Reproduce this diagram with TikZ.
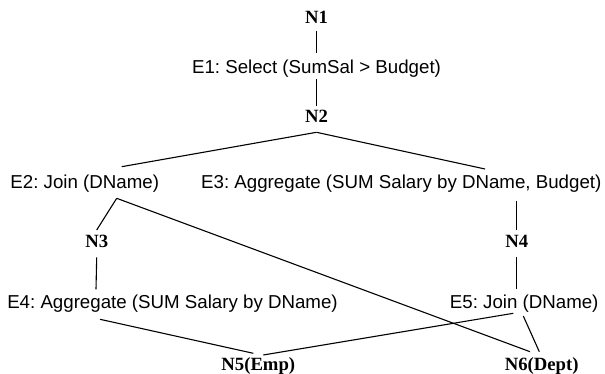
\documentclass[tikz,border=0pt]{standalone}
\usepackage{fontspec}
\setmainfont{Liberation Serif}
\newfontfamily\arialf{Liberation Sans}
\usetikzlibrary{calc}
\tikzset{
  nlabel/.style={anchor=base, inner sep=0pt, font=\fontsize{18.7}{22}\selectfont\bfseries\frenchspacing},
  elabel/.style={anchor=base, inner sep=0pt, font=\arialf\fontsize{18.7}{22}\selectfont\frenchspacing},
  conn/.style={draw=black, line width=1.1pt}
}
\begin{document}
\begin{tikzpicture}[x=1pt,y=-1pt]
\useasboundingbox (0,0) rectangle (605,374);
\node[nlabel] (N1) at (316.5,23.3) {N1};
\node[elabel] (E1) at (316.5,74) {E1: Select (SumSal > Budget)};
\node[nlabel] (N2) at (316.5,123) {N2};
\node[elabel] (E2) at (84.8,188.3) {E2: Join (DName)};
\node[elabel] (E3) at (401.3,188.3) {E3: Aggregate (SUM Salary by DName, Budget)};
\node[nlabel] (N3) at (96.7,247.7) {N3};
\node[nlabel] (N4) at (516.7,247.7) {N4};
\node[elabel] (E4) at (172.5,308.3) {E4: Aggregate (SUM Salary by DName)};
\node[elabel] (E5) at (524.2,308.3) {E5: Join (DName)};
\node[nlabel] (N5) at (258.3,370) {N5(Emp)};
\node[nlabel] (N6) at (541.7,370) {N6(Dept)};

\draw[conn] ($(N1.base)+(0,7.4)$) -- ($(E1.base)+(0,-20.7)$);
\draw[conn] ($(E1.base)+(0,5.3)$) -- ($(N2.base)+(0,-17)$);
\draw[conn] ($(N2.base)+(0,9.3)$) -- ($(E2.base)+(36.9,-21.6)$);
\draw[conn] ($(N2.base)+(0,9.3)$) -- ($(E3.base)+(83.7,-19.3)$);
\draw[conn] ($(E2.base)+(31.9,10)$) -- ($(N3.base)+(0,-17.7)$);
\draw[conn] ($(E2.base)+(31.9,10)$) -- ($(N6.base)+(-11.7,-18.3)$);
\draw[conn] ($(E3.base)+(115.4,12.7)$) -- ($(N4.base)+(0,-17.7)$);
\draw[conn] ($(N3.base)+(0,9.6)$) -- ($(E4.base)+(-76.5,-19)$);
\draw[conn] ($(N4.base)+(0,9.6)$) -- ($(E5.base)+(-7.5,-19)$);
\draw[conn] ($(E4.base)+(-72.5,11)$) -- ($(N5.base)+(-5,-16.7)$);
\draw[conn] ($(E5.base)+(-10.9,5)$) -- ($(N5.base)+(5,-15)$);
\draw[conn] ($(E5.base)+(-0.9,7.7)$) -- ($(N6.base)+(-2.4,-18.3)$);
\end{tikzpicture}
\end{document}
